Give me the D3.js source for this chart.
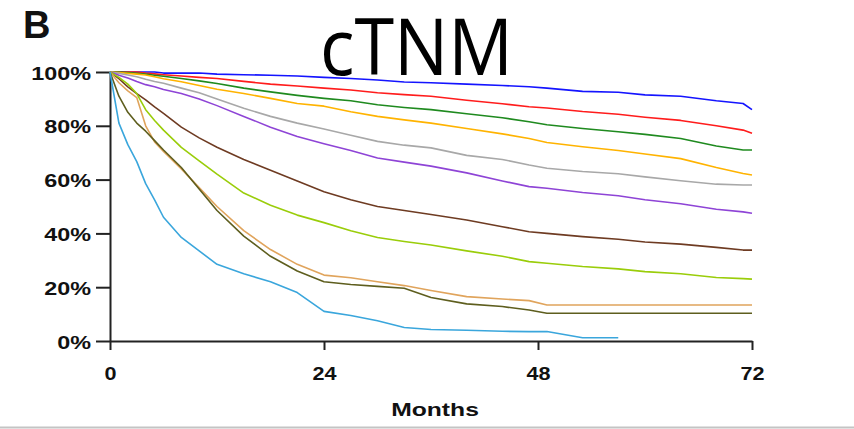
<!DOCTYPE html>
<html lang="en">
<head>
<meta charset="UTF-8">
<title>cTNM</title>
<script src="https://d3js.org/d3.v7.min.js"></script>
<style>
  body { margin: 0; background: #fff; overflow: hidden; }
  svg { display: block; }
  .axis path, .axis line { stroke: #222; stroke-width: 2; }
  .axis text, .label {
    font-family: "Liberation Sans", Arial, sans-serif;
    font-weight: bold;
    font-size: 18px;
    fill: #111;
  }
  .curve { fill: none; stroke-width: 1.6; stroke-linejoin: round; }
</style>
</head>
<body>
<svg width="854" height="429"></svg>
<script>
// === Data (survival %) ===
const months = [0, 1, 2, 3, 4, 5, 6, 8, 10, 12, 15, 18, 21, 24, 27, 30, 33, 36, 40, 44, 47, 49, 53, 57, 60, 64, 68, 71, 72];

const survBlue   = [100, 100, 100, 100, 100, 100, 99.6, 99.6, 99.6, 99.2, 99, 98.8, 98.5, 98, 97.6, 97, 96.3, 96, 95.5, 95, 94.5, 94, 92.8, 92.5, 91.5, 91, 89.3, 88.3, 86];
const survRed    = [100, 100, 100, 100, 99.6, 99.3, 99, 98.5, 98, 97.6, 96.5, 95.5, 94.8, 94, 93.3, 92.3, 91.6, 91, 89.5, 88.2, 87.1, 86.6, 85.3, 84.3, 83.2, 82, 80, 78.4, 77.2];
const survGreen  = [100, 100, 99.8, 99.5, 99.2, 98.8, 98.4, 97.6, 96.7, 95.7, 94, 92.6, 91.3, 90.2, 89.3, 87.8, 86.8, 86, 84.5, 83, 81.5, 80.4, 79, 77.8, 76.8, 75.3, 72.5, 71, 71];
const survGold   = [100, 99.8, 99.5, 99.2, 98.9, 98.2, 97.5, 96.4, 95, 93.6, 92, 90.2, 88.3, 87.3, 85.2, 83.5, 82.2, 81, 79, 77, 75.3, 73.8, 72.2, 70.8, 69.5, 67.8, 64.5, 62.3, 61.7];
const survGray   = [100, 99.5, 98.9, 98.2, 97.3, 96.5, 95.8, 94, 92.3, 90, 86.5, 83.5, 81, 78.8, 76.5, 74.2, 72.8, 71.8, 69, 67.5, 65.4, 64.2, 63, 62.2, 61, 59.6, 58.3, 58, 58];
const survPurple = [100, 98.8, 97.8, 96.5, 95.3, 94.5, 93.5, 92, 90, 87.5, 83.5, 79.5, 76, 73.3, 70.8, 68, 66.5, 65, 62.5, 59.5, 57.4, 56.8, 55.2, 54, 52.5, 51, 49, 48, 47.5];
const survBrown  = [100, 97.5, 94.5, 92, 89.6, 87, 84.6, 79.5, 75.5, 72, 67.5, 63.5, 59.5, 55.5, 52.5, 50, 48.5, 47, 45, 42.5, 40.6, 40, 38.8, 37.8, 36.8, 36, 34.8, 33.8, 33.8];
const survLime   = [100, 98, 95.5, 92, 86, 82, 78.4, 72, 67, 62, 55, 50.5, 46.8, 44, 41, 38.5, 37, 35.7, 33.5, 31.5, 29.5, 28.9, 27.7, 26.8, 25.8, 25, 23.6, 23.2, 23];
const survTan    = [100, 96, 93, 90.5, 80, 74, 70.5, 64, 57, 50, 41, 34, 28.5, 24.5, 23.5, 22, 20.6, 18.8, 16.5, 15.6, 15, 13.4, 13.4, 13.4, 13.4, 13.4, 13.4, 13.4, 13.4];
const survOlive  = [100, 91, 85, 81, 78, 74.5, 71, 64.5, 56.5, 48.5, 39, 31.5, 26, 22, 21, 20.3, 19.6, 16.2, 13.8, 12.8, 11.5, 10.3, 10.3, 10.3, 10.3, 10.3, 10.3, 10.3, 10.3];
const survSky    = [100, 81, 73, 66.7, 58.5, 52.5, 46, 38.5, 33.5, 28.5, 25, 22, 18, 11, 9.5, 7.5, 5, 4.3, 4, 3.6, 3.5, 3.5, 1.2, 1.2, null, null, null, null, null];

const xTicks = [0, 24, 48, 72];
const yTicks = [0, 20, 40, 60, 80, 100];

const series = [
  { name: "blue",   values: survBlue },
  { name: "red",    values: survRed },
  { name: "green",  values: survGreen },
  { name: "gold",   values: survGold },
  { name: "gray",   values: survGray },
  { name: "purple", values: survPurple },
  { name: "brown",  values: survBrown },
  { name: "lime",   values: survLime },
  { name: "tan",    values: survTan },
  { name: "olive",  values: survOlive },
  { name: "sky",    values: survSky }
];

const colours = {
  blue: "#1414ff", red: "#ff1c1c", green: "#1f8a1f", gold: "#ffb300",
  gray: "#a8a8a8", purple: "#8e44d6", brown: "#6e3b22", lime: "#9acd0a",
  tan: "#e0a45c", olive: "#5e5e1e", sky: "#3aa6dc"
};

// === Setup ===
const svg = d3.select("svg");
const x = d3.scaleLinear().domain([0, 72]).range([110, 752]);
const y = d3.scaleLinear().domain([0, 100]).range([341, 72]);

// bottom border of the original figure
svg.append("line")
  .attr("x1", 0).attr("x2", 854)
  .attr("y1", 427.5).attr("y2", 427.5)
  .attr("stroke", "#c4c4c4").attr("stroke-width", 2);

// === Axes ===
const gx = svg.append("g")
  .attr("class", "axis")
  .attr("transform", `translate(0,${y(0)})`)
  .call(d3.axisBottom(x).tickValues(xTicks).tickSize(9).tickSizeOuter(0));
gx.selectAll("text")
  .attr("y", null).attr("dy", null)
  .attr("transform", "translate(0,39) scale(1.2,1)");

const gy = svg.append("g")
  .attr("class", "axis")
  .attr("transform", `translate(${x(0)},0)`)
  .call(d3.axisLeft(y).tickValues(yTicks).tickFormat(d => d + "%").tickSize(14).tickSizeOuter(0));
gy.selectAll("text")
  .attr("x", null).attr("dy", null)
  .attr("transform", "translate(-19,7) scale(1.3,1)");

// === Curves ===
const line = d3.line()
  .defined(d => d.v != null)
  .x(d => x(d.m))
  .y(d => y(d.v));

svg.append("g")
  .selectAll("path")
  .data(series)
  .join("path")
  .attr("class", "curve")
  .attr("stroke", d => colours[d.name])
  .attr("d", d => line(months.map((m, i) => ({ m: m, v: d.values[i] }))));

// === Labels ===
svg.append("text")
  .attr("class", "label")
  .attr("transform", "translate(435,416) scale(1.3,1)")
  .attr("text-anchor", "middle")
  .style("font-size", "19px")
  .text("Months");

svg.append("text")
  .attr("class", "label")
  .attr("x", 23).attr("y", 38)
  .style("font-size", "38px")
  .text("B");

svg.append("text")
  .attr("x", 320).attr("y", 75)
  .attr("textLength", 193)
  .attr("lengthAdjust", "spacingAndGlyphs")
  .style("font-family", "'Open Sans', 'Noto Sans', sans-serif")
  .style("font-size", "78px")
  .style("fill", "#000")
  .text("cTNM");
</script>
</body>
</html>
